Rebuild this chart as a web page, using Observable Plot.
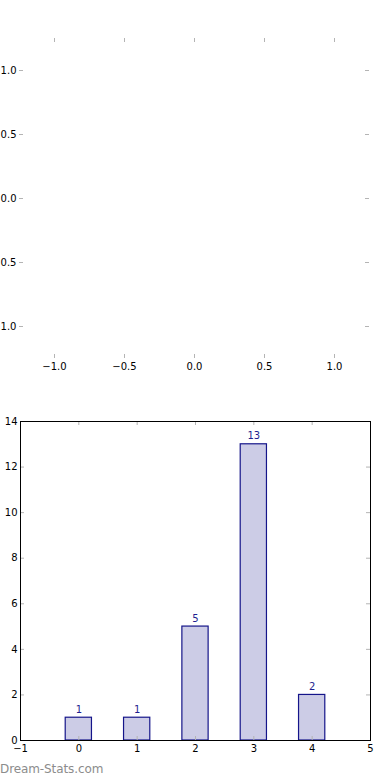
<!DOCTYPE html>
<html>
<head>
<meta charset="utf-8">
<script src="https://cdn.jsdelivr.net/npm/d3@7"></script>
<script src="https://cdn.jsdelivr.net/npm/@observablehq/plot@0.6"></script>
<style>
  html, body { margin: 0; padding: 0; background: #fff; }
  body { width: 390px; height: 780px; position: relative; overflow: hidden; font-family: "DejaVu Sans", sans-serif; }
  #top { position: absolute; left: 0; top: 0; }
  #bottom { position: absolute; left: 0; top: 380px; }
  #wm { position: absolute; left: 0; top: 762px; font-size: 12px; color: #8c8c8c; font-family: "DejaVu Sans", sans-serif; letter-spacing: -0.1px; }
</style>
</head>
<body>
<div id="top"></div>
<div id="bottom"></div>
<div id="wm">Dream-Stats.com</div>
<script>
// ---- data ----
const topXTicks = [-1.0, -0.5, 0.0, 0.5, 1.0];
const topYTicks = [-1.0, -0.5, 0.0, 0.5, 1.0];
const categories = [0, 1, 2, 3, 4];
const counts = [1, 1, 5, 13, 2];
const barXTicks = [-1, 0, 1, 2, 3, 4, 5];
const barYTicks = [0, 2, 4, 6, 8, 10, 12, 14];

const bars = categories.map((c, i) => ({x: c, count: counts[i]}));

const tickColor = "#b4b4b4";
const fontStyle = {fontFamily: "DejaVu Sans, sans-serif", fontSize: "10px", color: "#000", background: "transparent", overflow: "visible"};

// ---- top (empty) chart ----
{
  const W = 390, H = 380, mL = 19, mR = 21, mT = 38, mB = 22;
  const fw = W - mL - mR, fh = H - mT - mB;
  const p = Plot.plot({
    width: W, height: H,
    marginLeft: mL, marginRight: mR, marginTop: mT, marginBottom: mB,
    style: fontStyle,
    x: {domain: [-1.25, 1.25]},
    y: {domain: [-1.25, 1.25]},
    marks: [
      Plot.axisX(topXTicks, {anchor: "bottom", tickSize: 0, tickPadding: 4, tickFormat: d3.format(".1f"), label: null, fill: "#000"}),
      Plot.axisY(topYTicks, {anchor: "left", tickSize: 0, tickPadding: 3, tickFormat: d3.format(".1f"), label: null, fill: "#000"}),
      Plot.tickX(topXTicks, {x: d => d, insetTop: fh - 4, stroke: tickColor}),
      Plot.tickX(topXTicks, {x: d => d, insetBottom: fh - 4, stroke: tickColor}),
      Plot.tickY(topYTicks, {y: d => d, insetRight: fw - 4, stroke: tickColor}),
      Plot.tickY(topYTicks, {y: d => d, insetLeft: fw - 4, stroke: tickColor})
    ]
  });
  document.getElementById("top").appendChild(p);
}

// ---- bottom (bar) chart ----
{
  const W = 390, H = 380, mL = 20, mR = 20, mT = 41, mB = 20;
  const fw = W - mL - mR, fh = H - mT - mB;
  const half = 0.225;
  const p = Plot.plot({
    width: W, height: H,
    marginLeft: mL, marginRight: mR, marginTop: mT, marginBottom: mB,
    style: fontStyle,
    x: {domain: [-1, 5]},
    y: {domain: [0, 14]},
    marks: [
      Plot.rectY(bars, {x1: d => d.x - half, x2: d => d.x + half, y1: 0, y2: "count", fill: "#ccccE6", stroke: "#15158a", strokeWidth: 1.2}),
      Plot.text(bars, {x: "x", y: "count", text: d => String(d.count), dy: -8, fill: "#1f1f90", fontSize: 10}),
      Plot.tickX(barXTicks, {x: d => d, insetTop: fh - 4, stroke: tickColor}),
      Plot.tickX(barXTicks, {x: d => d, insetBottom: fh - 4, stroke: tickColor}),
      Plot.tickY(barYTicks, {y: d => d, insetRight: fw - 4, stroke: tickColor}),
      Plot.tickY(barYTicks, {y: d => d, insetLeft: fw - 4, stroke: tickColor}),
      Plot.frame({stroke: "#000", strokeWidth: 1}),
      Plot.axisX(barXTicks, {anchor: "bottom", tickSize: 0, tickPadding: 4, tickFormat: d3.format("d"), label: null, fill: "#000"}),
      Plot.axisY(barYTicks, {anchor: "left", tickSize: 0, tickPadding: 3, tickFormat: d3.format("d"), label: null, fill: "#000"})
    ]
  });
  document.getElementById("bottom").appendChild(p);
}
</script>
</body>
</html>
